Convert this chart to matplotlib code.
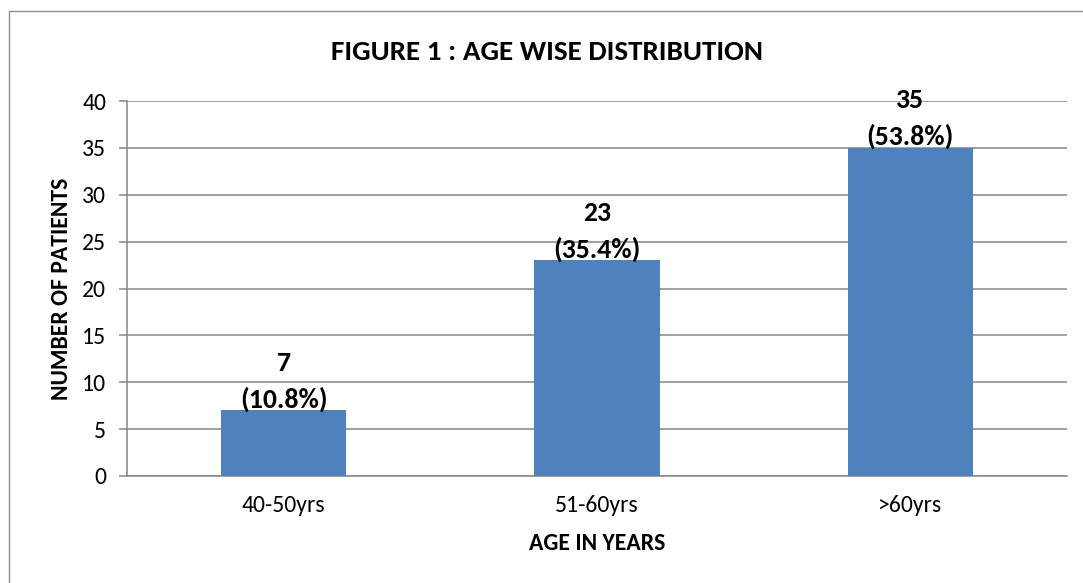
import matplotlib
matplotlib.use("Agg")
import matplotlib.pyplot as plt
from matplotlib.patches import Rectangle

# Age groups and patient counts
age_groups = ["40-50yrs", "51-60yrs", ">60yrs"]
patients = [7, 23, 35]
percentages = ["10.8%", "35.4%", "53.8%"]
y_ticks = [0, 5, 10, 15, 20, 25, 30, 35, 40]

plt.rcParams["font.family"] = ["Carlito", "DejaVu Sans"]

W, H = 1083, 583
fig = plt.figure(figsize=(W / 100, H / 100), dpi=100)
fig.patch.set_facecolor("white")

# Outer chart frame
fig.add_artist(Rectangle((9 / W, -0.05), 1.2, 1 - 11 / H + 0.05,
                         transform=fig.transFigure, fill=False,
                         edgecolor="#8c8c8c", linewidth=1.0))

ax = fig.add_axes([127 / W, 1 - 476 / H, (1067 - 127) / W, (476 - 101) / H])

grid_color = "#868686"
x = list(range(len(age_groups)))
ax.bar(x, patients, width=0.4, color="#4F81BD", zorder=3)

ax.set_xlim(-0.5, len(age_groups) - 0.5)
ax.set_ylim(0, 40)
ax.set_yticks(y_ticks)
ax.set_xticks(x)
ax.set_xticklabels(age_groups)

ax.yaxis.grid(True, color=grid_color, linewidth=1.1, zorder=0)
ax.set_axisbelow(True)
for side in ["top", "right"]:
    ax.spines[side].set_visible(False)
for side in ["left", "bottom"]:
    ax.spines[side].set_color(grid_color)
    ax.spines[side].set_linewidth(1.1)

ax.tick_params(axis="y", length=6, width=1.1, color=grid_color,
               labelsize=17, pad=9, labelcolor="black")
ax.tick_params(axis="x", length=0, labelsize=17, pad=14, labelcolor="black")

for xi, v, p in zip(x, patients, percentages):
    ax.annotate(f"{v}\n({p})", xy=(xi, v), xytext=(0, -1),
                textcoords="offset points", ha="center", va="bottom",
                fontsize=20, fontweight="bold", linespacing=1.55)

ax.set_xlabel("AGE IN YEARS", fontsize=17, fontweight="bold", labelpad=12)
ax.set_ylabel("NUMBER OF PATIENTS", fontsize=17, fontweight="bold", labelpad=7)

fig.text(547 / W, 1 - 52 / H, "FIGURE 1 : AGE WISE DISTRIBUTION",
         ha="center", va="center", fontsize=21, fontweight="bold")

fig.savefig("out.png", dpi=100)
